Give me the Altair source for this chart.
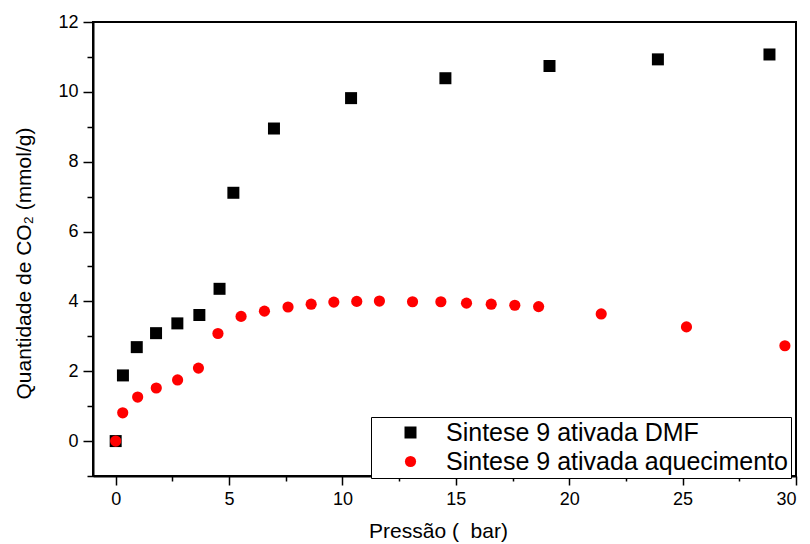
import altair as alt
import pandas as pd

# ---- data ----
series_names = ["Sintese 9 ativada DMF", "Sintese 9 ativada aquecimento"]

dmf_x = [0, 0.32, 0.93, 1.78, 2.72, 3.69, 4.58, 5.19, 6.98, 10.38, 14.54, 19.13, 23.91, 28.83]
dmf_y = [0, 1.88, 2.69, 3.09, 3.37, 3.61, 4.36, 7.11, 8.95, 9.82, 10.39, 10.74, 10.93, 11.07]

aq_x = [0, 0.31, 0.97, 1.79, 2.73, 3.65, 4.51, 5.53, 6.56, 7.60, 8.62, 9.62, 10.63, 11.63,
        13.09, 14.34, 15.47, 16.56, 17.60, 18.65, 21.41, 25.17, 29.51]
aq_y = [0, 0.81, 1.26, 1.52, 1.75, 2.09, 3.08, 3.57, 3.72, 3.84, 3.92, 3.98, 4.00, 4.01,
        3.99, 3.99, 3.95, 3.92, 3.89, 3.85, 3.64, 3.27, 2.73]

x_ticks = [0, 2.5, 5, 7.5, 10, 12.5, 15, 17.5, 20, 22.5, 25, 27.5, 30]
y_ticks = [-1, 0, 1, 2, 3, 4, 5, 6, 7, 8, 9, 10, 11, 12]

df = pd.concat([
    pd.DataFrame({"x": dmf_x, "y": dmf_y, "series": series_names[0]}),
    pd.DataFrame({"x": aq_x, "y": aq_y, "series": series_names[1]}),
], ignore_index=True)

FONT = "Liberation Sans"

legend = alt.Legend(
    title=None,
    orient="none",
    legendX=278,
    legendY=395,
    fillColor="white",
    strokeColor="black",
    padding=3,
    rowPadding=3,
    symbolOffset=24,
    labelOffset=23,
    labelFont=FONT,
    labelFontSize=25,
    labelColor="black",
    labelLimit=600,
    symbolSize=140,
    symbolStrokeWidth=0,
    labelExpr="datum.label + ' '",
)

x_axis = alt.Axis(
    values=x_ticks,
    title="Pressão (\u00a0 bar)",
    labelExpr="datum.value % 5 === 0 ? datum.label : ''",
    tickSize={"condition": {"test": "datum.value % 5 === 0", "value": 9}, "value": 5},
    labelPadding=5,
    titleX=345,
    titleY=61,
    titleBaseline="alphabetic",
    titleAlign="center",
    grid=False,
)

y_axis = alt.Axis(
    values=y_ticks,
    title="Quantidade de CO₂ (mmol/g)",
    labelExpr="datum.value % 2 === 0 ? datum.label : ''",
    tickSize={"condition": {"test": "datum.value % 2 === 0", "value": 10}, "value": 6},
    labelPadding=5,
    titleAngle=-90,
    titleX=-69,
    titleY=241,
    titleAlign="center",
    titleBaseline="middle",
    grid=False,
)

chart = alt.Chart(df).mark_point(filled=True, opacity=1, strokeWidth=0).encode(
    x=alt.X("x:Q", scale=alt.Scale(domain=[-1, 30], nice=False, zero=False), axis=x_axis),
    y=alt.Y("y:Q", scale=alt.Scale(domain=[-1, 12], nice=False, zero=False), axis=y_axis),
    color=alt.Color("series:N", scale=alt.Scale(domain=series_names, range=["#000000", "#ff0000"]), legend=legend),
    shape=alt.Shape("series:N", scale=alt.Scale(domain=series_names, range=["square", "circle"]), legend=legend),
    size=alt.Size("series:N", scale=alt.Scale(domain=series_names, range=[144, 125]), legend=None),
    order=alt.Order("series:N"),
).properties(
    width=703,
    height=454,
    autosize=alt.AutoSizeParams(type="none"),
    padding={"left": 93, "top": 22, "right": 14, "bottom": 68},
).configure_view(
    stroke="black",
    strokeWidth=2,
).configure_axis(
    domainColor="black",
    domainWidth=2,
    tickColor="black",
    tickWidth=1.5,
    labelFont=FONT,
    labelFontSize=18,
    labelColor="black",
    titleFont=FONT,
    titleFontSize=21,
    titleFontWeight="normal",
    titleColor="black",
).configure_legend(
    strokeWidth=1,
)

chart.save("out.html", embed_options={"renderer": "svg", "actions": False})
